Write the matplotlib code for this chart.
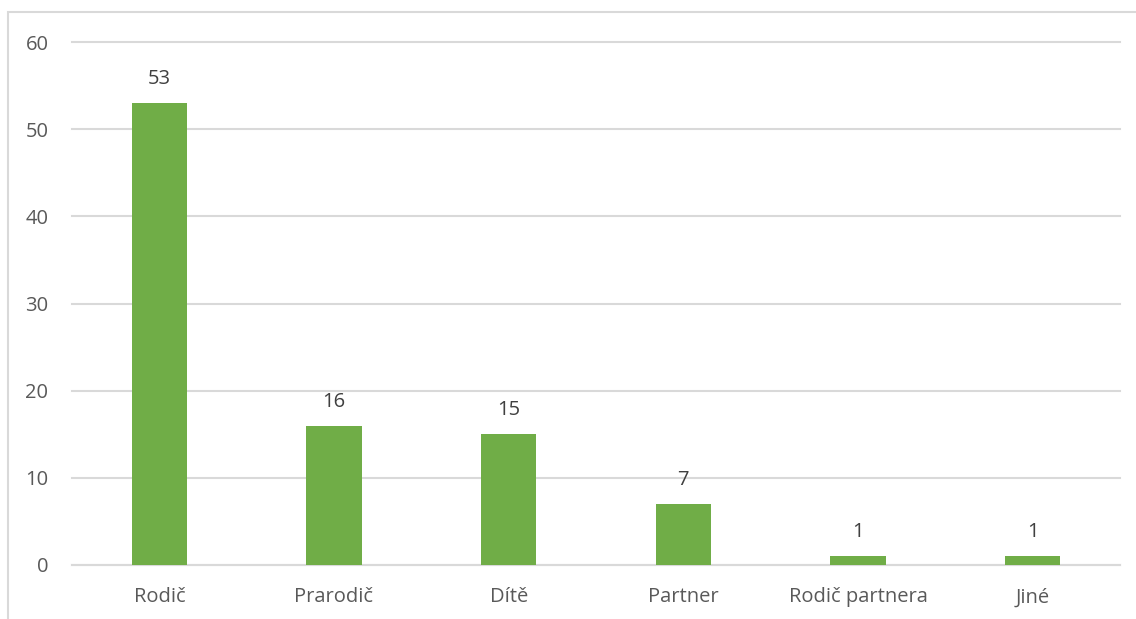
import matplotlib.pyplot as plt
from matplotlib.patches import Rectangle

# Data
kategorie = ["Rodič", "Prarodič", "Dítě", "Partner", "Rodič partnera", "Jiné"]
pocty = [53, 16, 15, 7, 1, 1]
y_ticks = [0, 10, 20, 30, 40, 50, 60]

plt.rcParams['font.family'] = ['Open Sans', 'DejaVu Sans']
text_color = "#595959"
grid_color = "#d9d9d9"

fig = plt.figure(figsize=(11.36, 6.19), dpi=100)
ax = fig.add_axes([72 / 1136, 54 / 619, 1048 / 1136, 523 / 619])

x = range(len(kategorie))
bars = ax.bar(x, pocty, width=0.315, color="#70AD47", zorder=3)

for b, v in zip(bars, pocty):
    ax.annotate(str(v), (b.get_x() + b.get_width() / 2, v),
                xytext=(0, 10), textcoords="offset points",
                ha="center", va="bottom", fontsize=14.5, color="#404040")

ax.set_xlim(-0.5, len(kategorie) - 0.5)
ax.set_ylim(0, 60)
ax.set_yticks(y_ticks)
ax.set_xticks(list(x))
ax.set_xticklabels(kategorie)
ax.yaxis.grid(True, color=grid_color, linewidth=1.5, zorder=0)
for gl in ax.yaxis.get_gridlines():
    gl.set_clip_on(False)
ax.tick_params(axis="y", length=0, pad=17, labelsize=14.5, labelcolor=text_color)
ax.tick_params(axis="x", length=0, pad=16, labelsize=14.5, labelcolor=text_color)
for s in ["top", "right", "left"]:
    ax.spines[s].set_visible(False)
ax.spines["bottom"].set_color(grid_color)
ax.spines["bottom"].set_linewidth(1.5)

# chart frame
fig.patches.append(Rectangle((8 / 1136, -0.1), 1.2, 1 - 12 / 619 + 0.1,
                             transform=fig.transFigure, fill=False,
                             edgecolor=grid_color, linewidth=1.5))

fig.savefig("out.png", dpi=100)
